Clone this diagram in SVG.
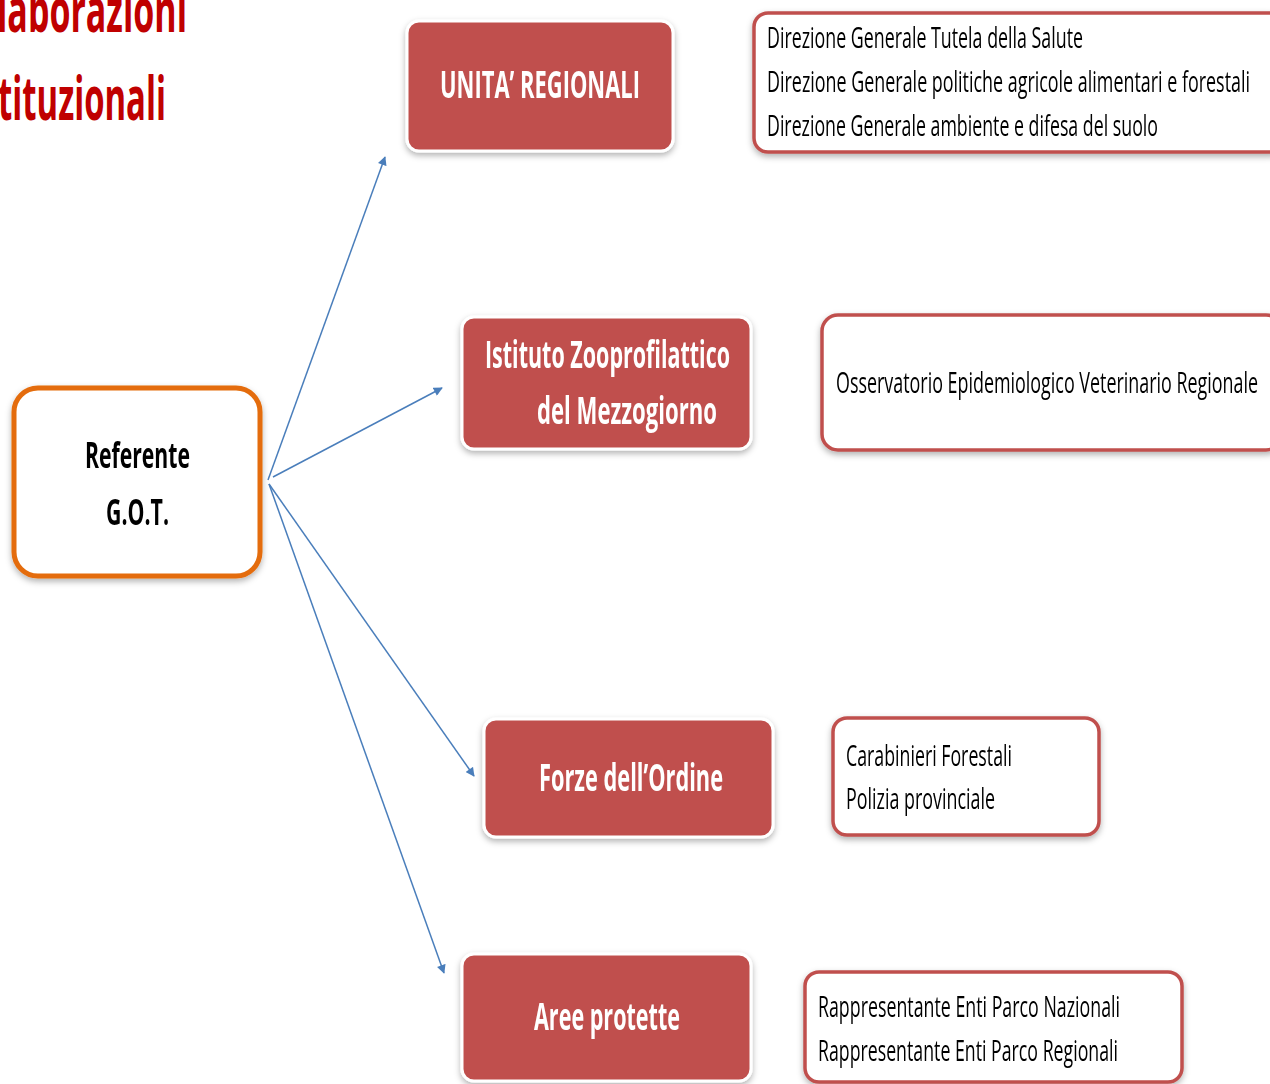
<svg xmlns="http://www.w3.org/2000/svg" width="1270" height="1084" viewBox="0 0 1270 1084">
<defs>
<filter id="sh" x="-10%" y="-10%" width="120%" height="130%">
<feDropShadow dx="0" dy="3" stdDeviation="3" flood-color="#000" flood-opacity="0.3"/>
</filter>
<marker id="ah" viewBox="0 0 10 10" refX="9" refY="5" markerWidth="6.5" markerHeight="6" orient="auto" markerUnits="strokeWidth">
<path d="M0,0 L10,5 L0,10 z" fill="#4A7EBB"/>
</marker>
</defs>
<style>
text{font-family:"Open Sans","Liberation Sans",sans-serif}
.title{font-size:60px;font-weight:bold;fill:#C00000}
.red{fill:#C0504D;stroke:#ffffff;stroke-width:3}
.lbl{font-size:38px;font-weight:bold;fill:#ffffff}
.lst{fill:#ffffff;stroke:#C0504D;stroke-width:3.5}
.li{font-size:30px;fill:#000000}
.ref{fill:#ffffff;stroke:#E46C0A;stroke-width:5}
.rt{font-size:36px;font-weight:bold;fill:#000000}
.con{stroke:#4A7EBB;stroke-width:1.5;fill:none;marker-end:url(#ah)}
</style>

<g id="title">
<text class="title" x="-3" y="32" textLength="190" lengthAdjust="spacingAndGlyphs">laborazioni</text>
<text class="title" x="-2" y="120" textLength="168" lengthAdjust="spacingAndGlyphs">tituzionali</text>
</g>

<g id="connectors">
<line class="con" x1="268" y1="480" x2="385" y2="157"/>
<line class="con" x1="273" y1="477" x2="442" y2="388"/>
<line class="con" x1="269" y1="484" x2="474" y2="776"/>
<line class="con" x1="269" y1="484" x2="444" y2="973"/>
</g>

<g id="referente" filter="url(#sh)">
<rect class="ref" x="14" y="388" width="246" height="188" rx="24"/>
<text class="rt" x="85" y="468" textLength="105" lengthAdjust="spacingAndGlyphs">Referente</text>
<text class="rt" x="106" y="525" textLength="63" lengthAdjust="spacingAndGlyphs">G.O.T.</text>
</g>

<g id="unita" filter="url(#sh)">
<rect class="red" x="407" y="21" width="266" height="130" rx="12"/>
<text class="lbl" x="440" y="98" textLength="200" lengthAdjust="spacingAndGlyphs">UNITA’ REGIONALI</text>
</g>

<g id="direzioni" filter="url(#sh)">
<rect class="lst" x="754" y="13" width="530" height="139" rx="14"/>
<text class="li" x="767" y="48" textLength="316" lengthAdjust="spacingAndGlyphs">Direzione Generale Tutela della Salute</text>
<text class="li" x="767" y="92" textLength="483" lengthAdjust="spacingAndGlyphs">Direzione Generale politiche agricole alimentari e forestali</text>
<text class="li" x="767" y="136" textLength="391" lengthAdjust="spacingAndGlyphs">Direzione Generale ambiente e difesa del suolo</text>
</g>

<g id="istituto" filter="url(#sh)">
<rect class="red" x="462" y="317" width="289" height="132" rx="12"/>
<text class="lbl" x="485" y="368" textLength="245" lengthAdjust="spacingAndGlyphs">Istituto Zooprofilattico</text>
<text class="lbl" x="537" y="424" textLength="180" lengthAdjust="spacingAndGlyphs">del Mezzogiorno</text>
</g>

<g id="osservatorio" filter="url(#sh)">
<rect class="lst" x="822" y="315" width="460" height="135" rx="16"/>
<text class="li" x="836" y="393" textLength="422" lengthAdjust="spacingAndGlyphs">Osservatorio Epidemiologico Veterinario Regionale</text>
</g>

<g id="forze" filter="url(#sh)">
<rect class="red" x="484" y="719" width="289" height="118" rx="12"/>
<text class="lbl" x="539" y="791" textLength="184" lengthAdjust="spacingAndGlyphs">Forze dell’Ordine</text>
</g>

<g id="carabinieri" filter="url(#sh)">
<rect class="lst" x="833" y="718" width="266" height="117" rx="14"/>
<text class="li" x="846" y="766" textLength="166" lengthAdjust="spacingAndGlyphs">Carabinieri Forestali</text>
<text class="li" x="846" y="809" textLength="149" lengthAdjust="spacingAndGlyphs">Polizia provinciale</text>
</g>

<g id="aree" filter="url(#sh)">
<rect class="red" x="462" y="954" width="289" height="127" rx="12"/>
<text class="lbl" x="534" y="1030" textLength="146" lengthAdjust="spacingAndGlyphs">Aree protette</text>
</g>

<g id="rappresentante" filter="url(#sh)">
<rect class="lst" x="805" y="972" width="377" height="110" rx="14"/>
<text class="li" x="818" y="1017" textLength="302" lengthAdjust="spacingAndGlyphs">Rappresentante Enti Parco Nazionali</text>
<text class="li" x="818" y="1061" textLength="300" lengthAdjust="spacingAndGlyphs">Rappresentante Enti Parco Regionali</text>
</g>
</svg>
